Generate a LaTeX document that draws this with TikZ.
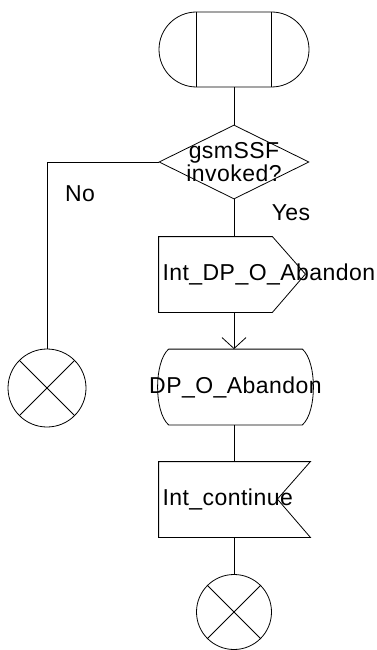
\documentclass[tikz,border=0pt]{standalone}
\usepackage{fontspec}
\newfontfamily\sdlfont[LetterSpace=2]{Liberation Sans}
\usetikzlibrary{positioning, arrows.meta, shapes.geometric, shapes.misc}

\begin{document}
\begin{tikzpicture}[
            x=1pt, y=-1pt,
            line width=0.8pt,
            every node/.style={font=\sdlfont\fontsize{23}{19}\selectfont},
            frame/.style={draw=none, inner sep=0pt, minimum width=#1, minimum height=75pt},
            start sym/.style={rounded rectangle, draw, inner sep=0pt, minimum width=150pt, minimum height=75pt},
            decision/.style={diamond, draw, inner sep=0pt, minimum width=150pt, minimum height=74pt},
            stop sym/.style={circle, draw, inner sep=0pt, minimum size=#1},
            flow arrow/.style={-{Straight Barb[length=11pt, width=24pt]}},
            label text/.style={inner sep=3.5pt}
        ]
            \useasboundingbox (0,0) rectangle (376,650);

            % --- Start symbol ---
            \node[start sym] (start) at (234,49.5) {};
            \draw ([xshift=-37.5pt]start.north) -- ([xshift=-37.5pt]start.south);
            \draw ([xshift=37.5pt]start.north) -- ([xshift=37.5pt]start.south);

            % --- Decision ---
            \node[decision] (dec) at (234,162) {};
            \node[align=center, inner sep=0pt] (dectext) at (dec) {gsmSSF\\invoked?};
            \node (no) at (80,194) {No};
            \node (yes) at (291,213) {Yes};

            % --- Output signal ---
            \node[frame=113pt] (sig) at (215.5,274.5) {};
            \draw (sig.north west) -- (sig.north east) -- ++(33,37.5)
                -- (sig.south east) -- (sig.south west) -- cycle;
            \node[label text, anchor=west] (sigtext) at (sig.west) {Int\_DP\_O\_Abandon};

            % --- Internal input ---
            \node[frame=133pt] (dp) at (235.5,387) {};
            \draw (dp.north west) -- (dp.north east)
                .. controls +(14.7,13) and +(14.7,-13) .. (dp.south east)
                -- (dp.south west)
                .. controls +(-14.7,-13) and +(-14.7,13) .. (dp.north west);
            \node (dptext) at (dp) {DP\_O\_Abandon};

            % --- Input signal ---
            \node[frame=151pt] (cont) at (234.5,499.5) {};
            \draw (cont.north west) -- (cont.north east) -- ++(-33,37.5)
                -- (cont.south east) -- (cont.south west) -- cycle;
            \node[label text, anchor=west] (conttext) at (cont.west) {Int\_continue};

            % --- Stop symbols ---
            \node[stop sym=78pt] (stopl) at (47,388) {};
            \draw (stopl.45) -- (stopl.225) (stopl.135) -- (stopl.-45);
            \node[stop sym=75pt] (stopr) at (234,612) {};
            \draw (stopr.45) -- (stopr.225) (stopr.135) -- (stopr.-45);

            % --- Flow lines ---
            \draw (start.south) -- (dec.north);
            \draw (dec.south) -- (dec.south |- sig.north);
            \draw (dec.west) -| (stopl.north);
            \draw[flow arrow] (dec |- sig.south) -- (dec |- dp.north);
            \draw (dec |- dp.south) -- (dec |- cont.north);
            \draw (dec |- cont.south) -- (stopr.north);

        \end{tikzpicture}
\end{document}
